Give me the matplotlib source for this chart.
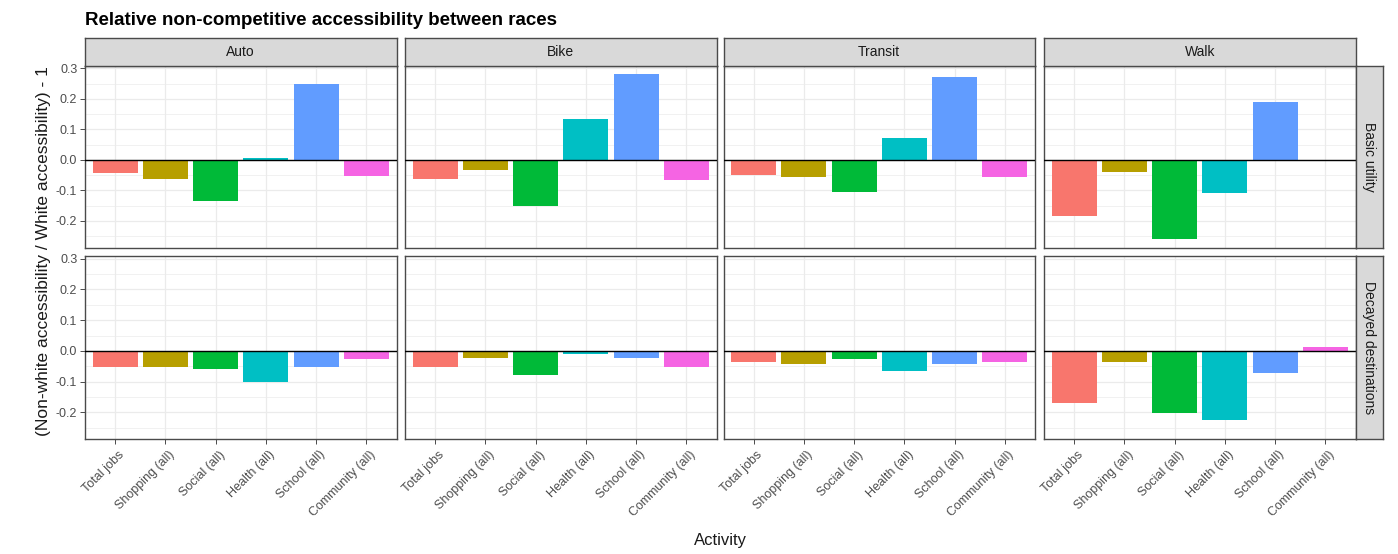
import matplotlib
matplotlib.use("Agg")
import matplotlib.pyplot as plt
from matplotlib.ticker import FixedLocator
import matplotlib.transforms as mtransforms

plt.rcParams["font.family"] = ["Liberation Sans", "DejaVu Sans"]

# ---- data -------------------------------------------------------------
activities = ["Total jobs", "Shopping (all)", "Social (all)",
              "Health (all)", "School (all)", "Community (all)"]
modes = ["Auto", "Bike", "Transit", "Walk"]
measures = ["Basic utility", "Decayed destinations"]

basic_auto = [-0.042, -0.062, -0.134, 0.005, 0.249, -0.054]
basic_bike = [-0.062, -0.032, -0.150, 0.134, 0.282, -0.067]
basic_transit = [-0.051, -0.055, -0.104, 0.070, 0.271, -0.055]
basic_walk = [-0.184, -0.039, -0.260, -0.108, 0.188, 0.0]

decay_auto = [-0.051, -0.051, -0.059, -0.101, -0.051, -0.025]
decay_bike = [-0.051, -0.024, -0.077, -0.010, -0.024, -0.051]
decay_transit = [-0.036, -0.043, -0.028, -0.066, -0.043, -0.036]
decay_walk = [-0.169, -0.036, -0.204, -0.225, -0.071, 0.013]

values = {
    "Basic utility": [basic_auto, basic_bike, basic_transit, basic_walk],
    "Decayed destinations": [decay_auto, decay_bike, decay_transit, decay_walk],
}

y_ticks = [-0.2, -0.1, 0.0, 0.1, 0.2, 0.3]
y_ticklabels = ["-0.2", "-0.1", "0.0", "0.1", "0.2", "0.3"]

colors = ["#F8766D", "#B79F00", "#00BA38", "#00BFC4", "#619CFF", "#F564E3"]

# ---- layout (pixels) --------------------------------------------------
W, H = 1398, 554
fig = plt.figure(figsize=(W / 100, H / 100), dpi=100)
fig.patch.set_facecolor("white")

col_left = [85, 405, 723.5, 1044]
panel_w = 311.5
row_top = [65.5, 256]
panel_h = [182, 183]
strip_h = 28
strip_w = 27


def box(x, y, w, h):
    return [x / W, 1 - (y + h) / H, w / W, h / H]


all_vals = [v for m in measures for s in values[m] for v in s]
lo, hi = min(all_vals), max(all_vals)
pad = 0.05 * (hi - lo)
ylim = (lo - pad, hi + pad)

border_col = "#4A4A4A"
grid_col = "#EBEBEB"
text_col = "#4D4D4D"

x = list(range(1, len(activities) + 1))


def style_strip(sax):
    sax.set_facecolor("#D9D9D9")
    sax.set_xticks([])
    sax.set_yticks([])
    for sp in sax.spines.values():
        sp.set_color(border_col)
        sp.set_linewidth(1.0)


for r, meas in enumerate(measures):
    for c, mode in enumerate(modes):
        ax = fig.add_axes(box(col_left[c], row_top[r], panel_w, panel_h[r]))
        ax.set_facecolor("white")
        ax.bar(x, values[meas][c], width=0.9, color=colors, zorder=2)
        ax.axhline(0, color="black", lw=1.0, zorder=3)
        ax.set_xlim(0.4, len(activities) + 0.6)
        ax.set_ylim(*ylim)
        ax.yaxis.set_major_locator(FixedLocator(y_ticks))
        minor = [(a + b) / 2 for a, b in zip(y_ticks[:-1], y_ticks[1:])]
        ax.yaxis.set_minor_locator(FixedLocator([y_ticks[0] - 0.05] + minor))
        ax.set_xticks(x)
        ax.grid(True, which="major", color=grid_col, lw=0.9, zorder=0)
        ax.grid(True, which="minor", axis="y", color=grid_col, lw=0.5, zorder=0)
        ax.set_axisbelow(True)
        for sp in ax.spines.values():
            sp.set_color(border_col)
            sp.set_linewidth(1.0)
        ax.tick_params(which="minor", length=0)
        ax.tick_params(which="major", length=3.5, width=0.7, color=border_col,
                       labelcolor=text_col, labelsize=9, pad=2)
        if c == 0:
            ax.set_yticklabels(y_ticklabels)
        else:
            ax.tick_params(axis="y", left=False, labelleft=False)
        if r == len(measures) - 1:
            ax.set_xticklabels(activities, rotation=45, ha="right", va="top",
                               rotation_mode="anchor")
            off = mtransforms.ScaledTranslation(3 / 100, -2 / 100, fig.dpi_scale_trans)
            for lbl in ax.get_xticklabels():
                lbl.set_transform(lbl.get_transform() + off)
        else:
            ax.tick_params(axis="x", bottom=False, labelbottom=False)

        # column strips on top
        if r == 0:
            sax = fig.add_axes(box(col_left[c], row_top[0] - strip_h, panel_w, strip_h))
            style_strip(sax)
            sax.text(0.5, 0.5, mode, ha="center", va="center", fontsize=10,
                     color="#1A1A1A", transform=sax.transAxes)

    # row strips on the right
    rax = fig.add_axes(box(col_left[-1] + panel_w, row_top[r], strip_w, panel_h[r]))
    style_strip(rax)
    rax.text(0.5, 0.5, meas, ha="center", va="center", fontsize=10,
             color="#1A1A1A", rotation=-90, transform=rax.transAxes)

fig.text(85 / W, 1 - 25 / H, "Relative non-competitive accessibility between races",
         ha="left", va="baseline", fontsize=13.5, fontweight="bold", color="black")
fig.text(44 / W, 1 - 251 / H, "(Non-white accessibility / White accessibility) - 1",
         ha="center", va="center", rotation=90, fontsize=12.5, color="#1A1A1A")
fig.text(720 / W, 1 - 541 / H, "Activity", ha="center", va="center",
         fontsize=12, color="#1A1A1A")

fig.savefig("out.png", dpi=100, facecolor="white")
